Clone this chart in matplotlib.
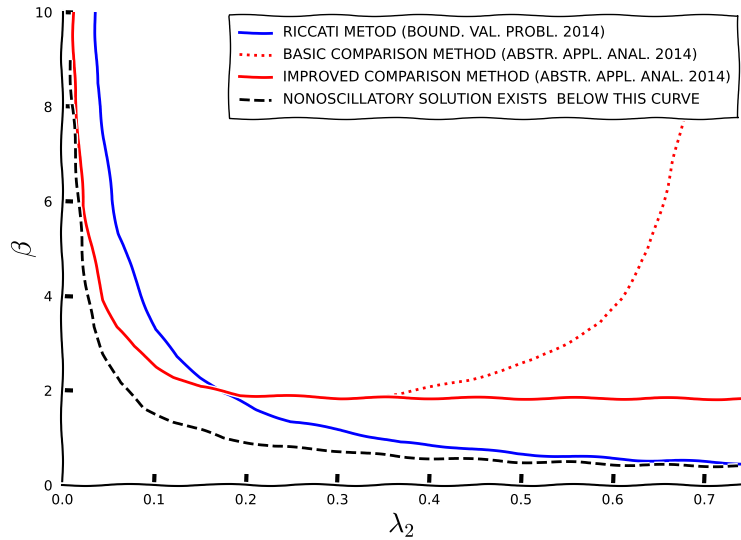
import matplotlib
matplotlib.use("Agg")
import matplotlib.pyplot as plt

# ---------- data ----------
riccati_x = [0.036, 0.0378, 0.0415, 0.045, 0.0488, 0.0542, 0.0615, 0.0706, 0.0815, 0.0925,
             0.1015, 0.125, 0.151, 0.176, 0.212, 0.249, 0.3035,
             0.369, 0.43, 0.497, 0.56, 0.624, 0.68, 0.74]
riccati_y = [10.0, 8.49, 8.0, 7.44, 6.87, 6.03, 5.32, 4.82, 4.27, 3.70,
             3.28, 2.71, 2.28, 1.94, 1.59, 1.34, 1.16,
             0.89, 0.8, 0.65, 0.6, 0.53, 0.5, 0.46]

basic_x = [0.33, 0.369, 0.4, 0.442, 0.48, 0.514, 0.55, 0.587, 0.61, 0.639, 0.66, 0.681, 0.697]
basic_y = [1.84, 1.94, 2.05, 2.22, 2.42, 2.64, 3.0, 3.42, 3.95, 4.97, 6.3, 8.1, 9.9]

improved_x = [0.0124, 0.0124, 0.0142, 0.0178, 0.0197, 0.0233, 0.0306, 0.0378, 0.045, 0.0597,
              0.0779, 0.103, 0.1215, 0.151, 0.194, 0.249, 0.3035,
              0.4, 0.5, 0.6, 0.74]
improved_y = [10.0, 8.84, 8.14, 7.44, 6.73, 5.88, 5.18, 4.48, 3.91, 3.34,
              2.92, 2.50, 2.29, 2.07, 1.90, 1.87, 1.84,
              1.84, 1.83, 1.83, 1.82]

nonosc_x = [0.0087, 0.0106, 0.0142, 0.0178, 0.0215, 0.027, 0.0342, 0.045, 0.0633,
            0.0888, 0.1215, 0.151, 0.176, 0.231, 0.3035, 0.369, 0.43, 0.497, 0.56,
            0.624, 0.68, 0.74]
nonosc_y = [8.98, 8.14, 7.08, 6.03, 4.97, 4.05, 3.34, 2.78, 2.15,
            1.62, 1.34, 1.16, 0.99, 0.81, 0.72, 0.59, 0.55, 0.49, 0.47,
            0.42, 0.41, 0.40]

labels = ["RICCATI METOD (BOUND. VAL. PROBL. 2014)",
          "BASIC COMPARISON METHOD (ABSTR. APPL. ANAL. 2014)",
          "IMPROVED COMPARISON METHOD (ABSTR. APPL. ANAL. 2014)",
          "NONOSCILLATORY SOLUTION EXISTS  BELOW THIS CURVE"]

xticks = [0.0, 0.1, 0.2, 0.3, 0.4, 0.5, 0.6, 0.7]
yticks = [0, 2, 4, 6, 8, 10]

# ---------- plotting ----------
with plt.xkcd():
    plt.rcParams['font.family'] = ['DejaVu Sans']
    plt.rcParams['mathtext.fontset'] = 'cm'

    fig = plt.figure(figsize=(7.41, 5.4), dpi=100)
    ax = fig.add_axes([0.084, 0.102, 0.916, 0.876])

    ax.plot(riccati_x, riccati_y, color='blue', label=labels[0])
    ax.plot(basic_x, basic_y, color='red', linestyle=':', label=labels[1])
    ax.plot(improved_x, improved_y, color='red', label=labels[2])
    ax.plot(nonosc_x, nonosc_y, color='black', linestyle='--', label=labels[3])

    ax.set_xlim(0, 0.74)
    ax.set_ylim(0, 10)
    ax.set_xticks(xticks)
    ax.set_yticks(yticks)
    ax.set_xticklabels([f"{t:.1f}" for t in xticks], fontsize=10)
    ax.set_yticklabels([str(t) for t in yticks], fontsize=10)
    ax.tick_params(direction='in', length=8, width=3)
    ax.tick_params(axis='x', pad=6)
    ax.tick_params(axis='y', pad=7)

    ax.spines['top'].set_visible(False)
    ax.spines['right'].set_visible(False)

    ax.set_xlabel(r'$\lambda_2$', fontsize=20)
    ax.set_ylabel(r'$\beta$', fontsize=20)
    ax.xaxis.set_label_coords(0.5, -0.055)
    ax.yaxis.set_label_coords(-0.035, 0.5)

    ax.legend(loc='upper right', fontsize=10.4, fancybox=False, framealpha=1,
              edgecolor='black', borderaxespad=0.2, handlelength=2.2,
              labelspacing=0.58, borderpad=0.75)

    fig.savefig("out.png", dpi=100)
